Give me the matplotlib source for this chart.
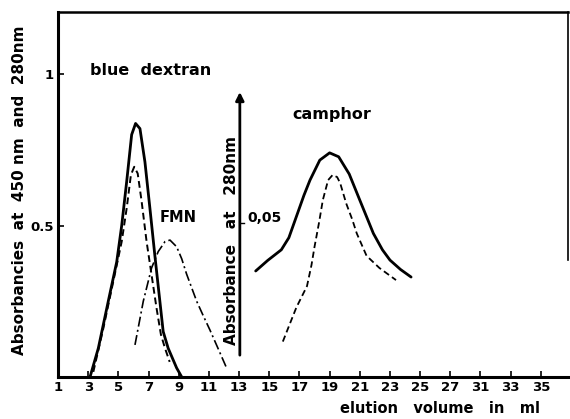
import matplotlib
matplotlib.use("Agg")
import matplotlib.pyplot as plt

# elution volume (ml) and absorbance
dextran_x = [3.12, 3.67, 4.33, 4.89, 5.22, 5.55, 5.88, 6.14, 6.43, 6.76, 7.09,
             7.42, 7.75, 7.97, 8.3, 8.86, 9.2]
dextran_solid = [0.0, 0.095, 0.25, 0.38, 0.50, 0.645, 0.80, 0.837, 0.82, 0.71,
                 0.557, 0.40, 0.25, 0.15, 0.095, 0.03, 0.0]

dextran_dash_x = [3.34, 4.0, 4.66, 5.22, 5.55, 5.83, 6.05, 6.28, 6.54, 6.87,
                  7.2, 7.53, 7.82, 8.09, 8.4]
dextran_dash = [0.017, 0.16, 0.315, 0.447, 0.557, 0.667, 0.694, 0.672, 0.58,
                0.447, 0.337, 0.227, 0.14, 0.095, 0.05]

fmn_x = [6.1, 6.65, 7.2, 7.64, 8.09, 8.42, 8.86, 9.2, 9.52, 10.19, 10.6,
         11.07, 11.6, 12.17]
fmn = [0.106, 0.25, 0.36, 0.414, 0.447, 0.452, 0.43, 0.39, 0.34, 0.25, 0.205,
       0.155, 0.095, 0.03]

camphor_x = [14.1, 14.9, 15.8, 16.3, 16.8, 17.3, 17.7, 18.35, 19.0, 19.6,
             20.3, 21.0, 21.9, 22.5, 23.0, 23.7, 24.4]
camphor_solid = [0.35, 0.385, 0.42, 0.46, 0.53, 0.60, 0.65, 0.716, 0.74, 0.727,
                 0.67, 0.584, 0.474, 0.42, 0.386, 0.355, 0.33]

camphor_dash_x = [15.9, 16.4, 16.8, 17.2, 17.5, 17.8, 18.0, 18.3, 18.55, 18.9,
                  19.2, 19.5, 19.7, 20.1, 20.5, 20.8, 21.45, 22.3, 23.4]
camphor_dash = [0.117, 0.18, 0.23, 0.27, 0.30, 0.37, 0.43, 0.51, 0.584, 0.65,
                0.667, 0.66, 0.64, 0.573, 0.52, 0.474, 0.40, 0.36, 0.32]

# the printed axis jumps from 27 to 31
tick_pos = list(range(1, 35, 2))
tick_labels = ["1", "3", "5", "7", "9", "11", "13", "15", "17", "19", "21",
               "23", "25", "27", "31", "33", "35"]

plt.rcParams["font.family"] = ["DejaVu Sans"]
plt.rcParams["font.weight"] = "bold"

fig = plt.figure(figsize=(5.7, 4.19), dpi=100)
ax = fig.add_axes([0.1018, 0.1002, 0.8947, 0.8712])

line_kw = dict(color="black", solid_joinstyle="round", solid_capstyle="round",
               dash_joinstyle="round")
ax.plot(dextran_x, dextran_solid, lw=2.0, **line_kw)
ax.plot(dextran_dash_x, dextran_dash, lw=1.4, ls=(0, (3.5, 2)), **line_kw)
ax.plot(fmn_x, fmn, lw=1.2, ls=(0, (6, 2, 1.2, 2)), **line_kw)
ax.plot(camphor_x, camphor_solid, lw=2.0, **line_kw)
ax.plot(camphor_dash_x, camphor_dash, lw=1.3, ls=(0, (3.5, 2)), **line_kw)

ax.set_xlim(1, 34.8)
ax.set_ylim(0, 1.205)
ax.set_xticks(tick_pos)
ax.set_xticklabels(tick_labels)
ax.set_yticks([0.5, 1])
ax.set_yticklabels(["0.5", "1"])
ax.tick_params(direction="in", length=4, width=1.2, labelsize=9.5, pad=3)

for side in ["left", "bottom"]:
    ax.spines[side].set_linewidth(2.2)
ax.spines["top"].set_linewidth(1.8)
ax.spines["right"].set_linewidth(1.2)
ax.spines["right"].set_bounds(0.386, 1.205)

# second scale for camphor
ax.annotate("", xy=(13.05, 0.95), xytext=(13.05, 0.063),
            arrowprops=dict(arrowstyle="-|>", lw=2, color="black",
                            mutation_scale=12))
ax.plot([13.05, 13.35], [0.508, 0.508], color="black", lw=1)
ax.text(13.55, 0.525, "0,05", fontsize=10, va="center", ha="left")
ax.text(12.52, 0.449, "Absorbance   at   280nm", rotation=90, fontsize=11,
        ha="center", va="center")

ax.text(3.12, 1.013, "blue  dextran", fontsize=11.5, va="center")
ax.text(7.75, 0.525, "FMN", fontsize=10.5, va="center")
ax.text(16.56, 0.868, "camphor", fontsize=11.5, va="center")

fig.text(0.035, 0.547, "Absorbancies  at  450 nm  and  280nm", fontsize=11,
         rotation=90, ha="center", va="center")
fig.text(0.947, 0.026, "elution   volume   in   ml", fontsize=10.5, ha="right",
         va="center")

fig.savefig("out.png", dpi=100)
